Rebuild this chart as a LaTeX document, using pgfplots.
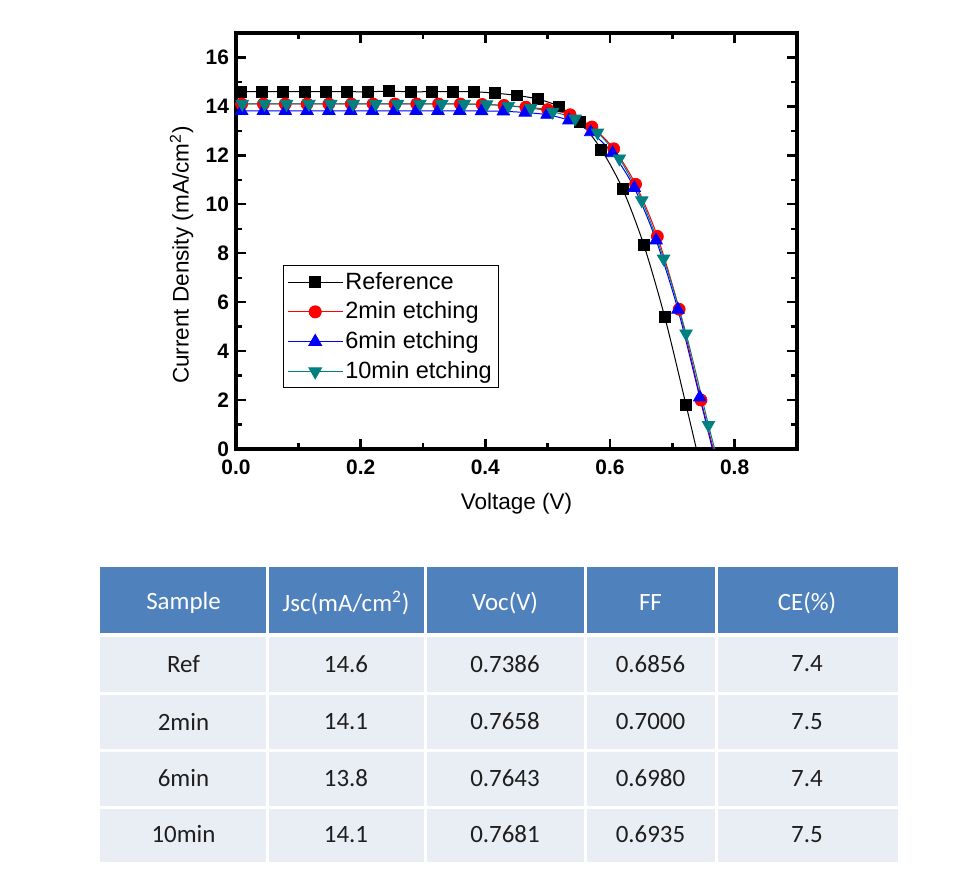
\documentclass[border=0pt]{standalone}
\usepackage{fontspec}
\setmainfont{Liberation Sans}
\newfontfamily\tabfont{Carlito}
\usepackage{pgfplots}
\pgfplotsset{compat=1.18}
\definecolor{tealc}{RGB}{0,128,128}
\definecolor{hdr}{RGB}{79,129,189}
\definecolor{rowc}{RGB}{233,237,244}
\definecolor{txt}{RGB}{30,30,30}

\begin{document}
\begin{tikzpicture}
% pixel grid of the reference: 1 px = 0.5 bp, y downwards
\begin{scope}[x=0.5bp,y=-0.5bp]
  \path (0,0) rectangle (971,875);
  \coordinate (axsw) at (236,449);
  % table
  \fill[rowc] (100,567) rectangle (898,862);
  \fill[hdr] (100,567) rectangle (898,635);
  \foreach \xx in {267,425,585,716}
    \draw[white, line width=1.5bp] (\xx,567) -- (\xx,862);
  \draw[white, line width=2bp] (100,635) -- (898,635);
  \foreach \yy in {693,750,807}
    \draw[white, line width=1.5bp] (100,\yy) -- (898,\yy);
  \begin{scope}[every node/.style={font=\tabfont\fontsize{12.5}{14}\selectfont, anchor=center}]
    \foreach \t [count=\i] in {Sample, Jsc(mA/cm\textsuperscript{2}), Voc(V), FF, CE(\%)} {
      \pgfmathsetmacro{\cx}{{183.5,346,505,650.5,807}[\i-1]}
      \node[text=white] at (\cx,603) {\t};
    }
    \foreach \a/\b/\c/\d/\e [count=\r] in {
        Ref/14.6/0.7386/0.6856/7.4,
        2min/14.1/0.7658/0.7000/7.5,
        6min/13.8/0.7643/0.6980/7.4,
        10min/14.1/0.7681/0.6935/7.5} {
      \pgfmathsetmacro{\cy}{{664,721.5,778.5,834.5}[\r-1]}
      \node[text=txt] at (183.5,\cy) {\a};
      \node[text=txt] at (346,\cy) {\b};
      \node[text=txt] at (505,\cy) {\c};
      \node[text=txt] at (650.5,\cy) {\d};
      \node[text=txt] at (807,\cy) {\e};
    }
  \end{scope}
\end{scope}

\begin{axis}[
    at={(axsw)}, anchor=south west,
    scale only axis,
    width=280.5bp, height=208bp,
    xmin=0, xmax=0.9, ymin=0, ymax=17,
    xtick={0,0.2,0.4,0.6,0.8},
    ytick={0,2,4,6,8,10,12,14,16},
    minor x tick num=1, minor y tick num=1,
    tick align=inside, tick pos=both,
    major tick length=5bp, minor tick length=3bp,
    axis line style={line width=1.7bp},
    every tick/.style={line width=1.2bp, black},
    /pgf/number format/assume math mode=true,
    ticklabel style={font=\bfseries\fontsize{10.5}{12}\selectfont},
    xticklabel style={yshift=-2bp, /pgf/number format/.cd, fixed, fixed zerofill, precision=1},
    xlabel={Voltage (V)},
    ylabel={Current Density (mA/cm\textsuperscript{2})},
    label style={font=\fontsize{11.3}{13}\selectfont},
    xlabel style={at={(axis description cs:0.5,-0.132)}, anchor=center},
    ylabel style={at={(axis description cs:-0.097,0.466)}, anchor=center},
    legend style={at={(axis description cs:0.0838,0.442)}, anchor=north west,
        draw=black, line width=0.5bp, inner sep=2bp, row sep=2.5bp,
        font=\fontsize{11.8}{13}\selectfont,
        nodes={inner sep=1.2bp}},
    legend cell align=left,
    legend image code/.code={%
        \draw[mark repeat=2, mark phase=2, #1] plot coordinates {(0cm,0cm) (0.48cm,0cm) (0.96cm,0cm)};},
]
% fitted curves
\addplot[black, smooth, line width=0.5bp,
    legend image post style={mark=square*, mark size=2.75pt}] coordinates {
(0.008,14.6) (0.042,14.6) (0.076,14.6) (0.110,14.6) (0.144,14.6) (0.178,14.6)
(0.212,14.6) (0.246,14.62) (0.280,14.6) (0.314,14.6) (0.348,14.6) (0.382,14.6)
(0.416,14.54) (0.450,14.45) (0.484,14.3) (0.518,14.0) (0.552,13.36) (0.586,12.24)
(0.620,10.64) (0.654,8.36) (0.688,5.38) (0.722,1.80) (0.7386,0)};
\addplot[red, smooth, line width=0.5bp,
    legend image post style={mark=*, mark size=3pt}] coordinates {
(0.009,14.1) (0.044,14.1) (0.079,14.1) (0.114,14.1) (0.149,14.1) (0.185,14.1)
(0.220,14.1) (0.255,14.1) (0.290,14.1) (0.325,14.1) (0.360,14.1) (0.395,14.08)
(0.430,14.04) (0.465,13.97) (0.500,13.87) (0.536,13.66) (0.571,13.16) (0.606,12.27)
(0.641,10.82) (0.676,8.69) (0.711,5.71) (0.746,2.0) (0.7658,0)};
\addplot[blue, smooth, line width=0.5bp,
    legend image post style={mark=triangle*, mark size=3.6pt}] coordinates {
(0.009,13.82) (0.044,13.82) (0.079,13.82) (0.114,13.82) (0.149,13.82) (0.184,13.82)
(0.219,13.82) (0.254,13.82) (0.289,13.82) (0.324,13.82) (0.359,13.82) (0.394,13.81)
(0.429,13.8) (0.464,13.75) (0.499,13.66) (0.534,13.43) (0.569,12.95) (0.604,12.09)
(0.639,10.67) (0.674,8.53) (0.709,5.70) (0.744,2.11) (0.7643,0)};
\addplot[tealc, smooth, line width=0.5bp,
    legend image post style={mark=triangle*, mark size=3.6pt, mark options={rotate=180}}] coordinates {
(0.010,14.1) (0.046,14.1) (0.081,14.1) (0.117,14.1) (0.152,14.1) (0.188,14.1)
(0.224,14.1) (0.259,14.1) (0.295,14.1) (0.330,14.1) (0.366,14.1) (0.402,14.08)
(0.437,14.02) (0.473,13.93) (0.508,13.78) (0.544,13.5) (0.580,12.93) (0.615,11.87)
(0.651,10.16) (0.686,7.78) (0.722,4.72) (0.758,0.98) (0.7681,0)};
% measured points
\addplot[black, only marks, mark=square*, mark size=2.75pt, forget plot] coordinates {
(0.008,14.6) (0.042,14.6) (0.076,14.6) (0.110,14.6) (0.144,14.6) (0.178,14.6)
(0.212,14.6) (0.246,14.65) (0.280,14.6) (0.314,14.6) (0.348,14.6) (0.382,14.6)
(0.416,14.54) (0.450,14.45) (0.484,14.3) (0.518,14.0) (0.552,13.36) (0.586,12.24)
(0.620,10.64) (0.654,8.36) (0.688,5.38) (0.722,1.80)};
\addplot[red, only marks, mark=*, mark size=3pt, forget plot] coordinates {
(0.009,14.1) (0.044,14.1) (0.079,14.1) (0.114,14.1) (0.149,14.1) (0.185,14.1)
(0.220,14.1) (0.255,14.1) (0.290,14.1) (0.325,14.1) (0.360,14.1) (0.395,14.08)
(0.430,14.04) (0.465,13.97) (0.500,13.87) (0.536,13.66) (0.571,13.16) (0.606,12.27)
(0.641,10.82) (0.676,8.69) (0.711,5.71) (0.746,2.0)};
\addplot[blue, only marks, mark=triangle*, mark size=3.6pt, forget plot] coordinates {
(0.009,13.82) (0.044,13.82) (0.079,13.82) (0.114,13.82) (0.149,13.82) (0.184,13.82)
(0.219,13.82) (0.254,13.82) (0.289,13.82) (0.324,13.82) (0.359,13.82) (0.394,13.81)
(0.429,13.8) (0.464,13.75) (0.499,13.66) (0.534,13.43) (0.569,12.95) (0.604,12.09)
(0.639,10.67) (0.674,8.53) (0.709,5.70) (0.744,2.11)};
\addplot[tealc, only marks, mark=triangle*, mark size=3.6pt, mark options={rotate=180}, forget plot] coordinates {
(0.010,14.1) (0.046,14.1) (0.081,14.1) (0.117,14.1) (0.152,14.1) (0.188,14.1)
(0.224,14.1) (0.259,14.1) (0.295,14.1) (0.330,14.1) (0.366,14.1) (0.402,14.08)
(0.437,14.02) (0.473,13.93) (0.508,13.78) (0.544,13.5) (0.580,12.93) (0.615,11.87)
(0.651,10.16) (0.686,7.78) (0.722,4.72) (0.758,0.98)};
\legend{Reference, 2min etching, 6min etching, 10min etching}
\end{axis}
\end{tikzpicture}
\end{document}
